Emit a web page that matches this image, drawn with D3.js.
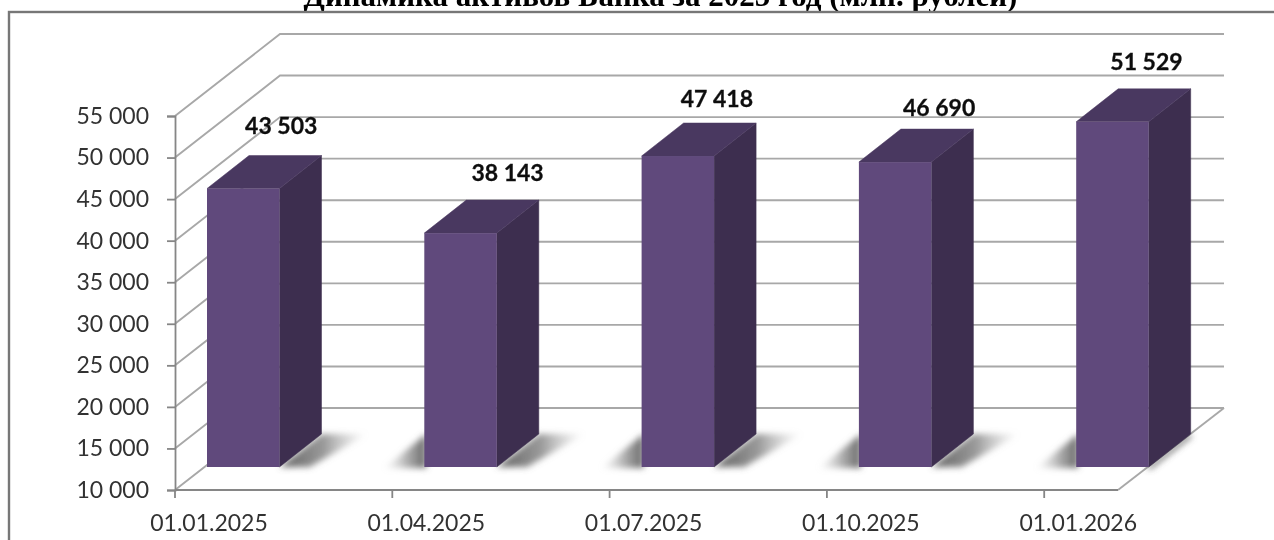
<!DOCTYPE html>
<html><head><meta charset="utf-8">
<script src="https://cdn.jsdelivr.net/npm/d3@7/dist/d3.min.js"></script>
<style>html,body{margin:0;padding:0;background:#fff;overflow:hidden}svg{display:block}</style>
</head><body><div id="chart"></div>
<script>
const titleText = "Динамика активов Банка за 2025 год (млн. рублей)";
const categories = ["01.01.2025","01.04.2025","01.07.2025","01.10.2025","01.01.2026"];
const assets = [43503,38143,47418,46690,51529];
const yTicks = [10000,15000,20000,25000,30000,35000,40000,45000,50000,55000];
// hand-placed data label offsets from each bar's top-front centre
const labelDx = [38,47,39,44,34];
const labelDy = [-63,-60,-57,-54,-60];

const W=1274,H=540;
const depth={x:105,y:-82}, barDepth={x:42,y:-33}, barInset={x:32,y:-23}, barW=72.5;
const y=d3.scaleLinear().domain([10000,55000]).range([490,116]);
const x=d3.scaleBand().domain(categories).range([175,175+217.3*5]);
const fmt=v=>d3.format(",")(v).replace(/,/g," ");

const svg=d3.select("#chart").append("svg").attr("width",W).attr("height",H);
const defs=svg.append("defs");
defs.append("filter").attr("id","soft").attr("filterUnits","userSpaceOnUse").attr("x",0).attr("y",0).attr("width",W).attr("height",H)
  .append("feGaussianBlur").attr("stdDeviation",0.55);
defs.append("filter").attr("id","shadow").attr("filterUnits","userSpaceOnUse").attr("x",0).attr("y",0).attr("width",W).attr("height",H)
  .append("feGaussianBlur").attr("stdDeviation",3.2);
const gradR=defs.append("linearGradient").attr("id","fadeR");
gradR.append("stop").attr("offset","0").attr("stop-color","#606060").attr("stop-opacity",1);
gradR.append("stop").attr("offset","0.5").attr("stop-color","#777").attr("stop-opacity",0.75);
gradR.append("stop").attr("offset","1").attr("stop-color","#aaa").attr("stop-opacity",0);
const gradL=defs.append("linearGradient").attr("id","fadeL");
gradL.append("stop").attr("offset","0").attr("stop-color","#bbb").attr("stop-opacity",0.05);
gradL.append("stop").attr("offset","0.6").attr("stop-color","#888").attr("stop-opacity",0.75);
gradL.append("stop").attr("offset","1").attr("stop-color","#666").attr("stop-opacity",1);

const root=svg.append("g").attr("filter","url(#soft)");
root.append("text").attr("x",660.5).attr("y",6).attr("text-anchor","middle")
  .attr("font-family","'Liberation Serif',serif").attr("font-weight","bold").attr("font-size",31).attr("fill","#000").text(titleText);
root.append("rect").attr("x",9).attr("y",12).attr("width",W+20).attr("height",H+20)
  .attr("fill","#fff").attr("stroke","#777").attr("stroke-width",2.4);

const plot=root.append("g");
const gridColor="#a8a8a8";
const floorRight=1118;
// walls
plot.append("g").selectAll("path").data(yTicks).join("path")
  .attr("fill","none").attr("stroke",gridColor).attr("stroke-width",1.9)
  .attr("d",d=>`M175,${y(d)}L${175+depth.x},${y(d)+depth.y}L${floorRight+depth.x+1},${y(d)+depth.y}`);
// floor edge
plot.append("path").attr("fill","none").attr("stroke",gridColor).attr("stroke-width",1.9)
  .attr("d",`M${floorRight},${y(10000)}L${floorRight+depth.x+1},${y(10000)+depth.y}`);

const bx=c=>x(c)+barInset.x, baseY=y(10000)+barInset.y, topY=v=>y(v)+barInset.y;

// floor shadows
const sh=plot.append("g").attr("filter","url(#shadow)");
sh.selectAll("path.r").data(categories.slice(0,4)).join("path").attr("class","r").attr("fill","url(#fadeR)")
  .attr("d",c=>{const r=bx(c)+barW;return `M${r},${baseY}L${r+barDepth.x},${baseY+barDepth.y}L${r+88},${baseY+barDepth.y}L${r+30},${baseY}Z`;});
sh.selectAll("path.l").data(categories.slice(1)).join("path").attr("class","l").attr("fill","url(#fadeL)")
  .attr("d",c=>{const l=bx(c);return `M${l+2},${baseY+1}L${l+2},${baseY-33}L${l-40},${baseY+1}Z`;});
sh.append("path").attr("fill","#555")
  .attr("d",()=>{const r=bx(categories[4])+barW;return `M${r-2},${baseY+1}L${r+barDepth.x-2},${baseY+barDepth.y+1}L${r+barDepth.x+2},${baseY+barDepth.y+2}L${r+2},${baseY+2}Z`;});

// bars
const bars=plot.append("g").selectAll("g").data(categories.map((c,i)=>({c,v:assets[i],i}))).join("g");
bars.append("path").attr("fill","#3D2F4F").attr("stroke","#3D2F4F").attr("stroke-width",0.5)
  .attr("d",d=>{const r=bx(d.c)+barW,t=topY(d.v);return `M${r},${t}L${r+barDepth.x},${t+barDepth.y}L${r+barDepth.x},${baseY+barDepth.y}L${r},${baseY}Z`;});
bars.append("path").attr("fill","#4A3860").attr("stroke","#4A3860").attr("stroke-width",0.5)
  .attr("d",d=>{const l=bx(d.c),t=topY(d.v);return `M${l},${t}L${l+barDepth.x},${t+barDepth.y}L${l+barW+barDepth.x},${t+barDepth.y}L${l+barW},${t}Z`;});
bars.append("rect").attr("fill","#604A7B")
  .attr("x",d=>bx(d.c)).attr("y",d=>topY(d.v)).attr("width",barW).attr("height",d=>baseY-topY(d.v));

// axes
const axisColor="#868686", textColor="#333", font="Lato,sans-serif";
const yAxis=plot.append("g").attr("transform","translate(175,0)")
  .call(d3.axisLeft(y).tickValues(yTicks).tickFormat(fmt).tickSize(8).tickPadding(18));
const xAxis=plot.append("g").attr("transform",`translate(0,${y(10000)})`)
  .call(d3.axisBottom(x).tickValues(categories).tickSize(8).tickSizeOuter(0));
xAxis.selectAll(".tick").attr("transform",d=>`translate(${x(d)},0)`);
xAxis.selectAll(".tick text").attr("x",34).attr("y",25).attr("dy","0.71em");
xAxis.select(".domain").attr("d",`M175,0H${floorRight}`);
[yAxis,xAxis].forEach(a=>{
  a.selectAll(".domain,line").attr("stroke",axisColor).attr("stroke-width",1.8);
  a.selectAll("text").attr("font-family",font).attr("font-size",23).attr("fill",textColor);
});

// data labels
plot.append("g").selectAll("text").data(assets).join("text")
  .attr("x",(v,i)=>bx(categories[i])+barW/2+labelDx[i])
  .attr("y",(v,i)=>topY(v)+labelDy[i]).attr("dy","0.35em")
  .attr("text-anchor","middle").attr("font-family",font).attr("font-weight","bold").attr("font-size",23).attr("fill","#111")
  .attr("stroke","#111").attr("stroke-width",0.3)
  .text(fmt);
</script></body></html>
